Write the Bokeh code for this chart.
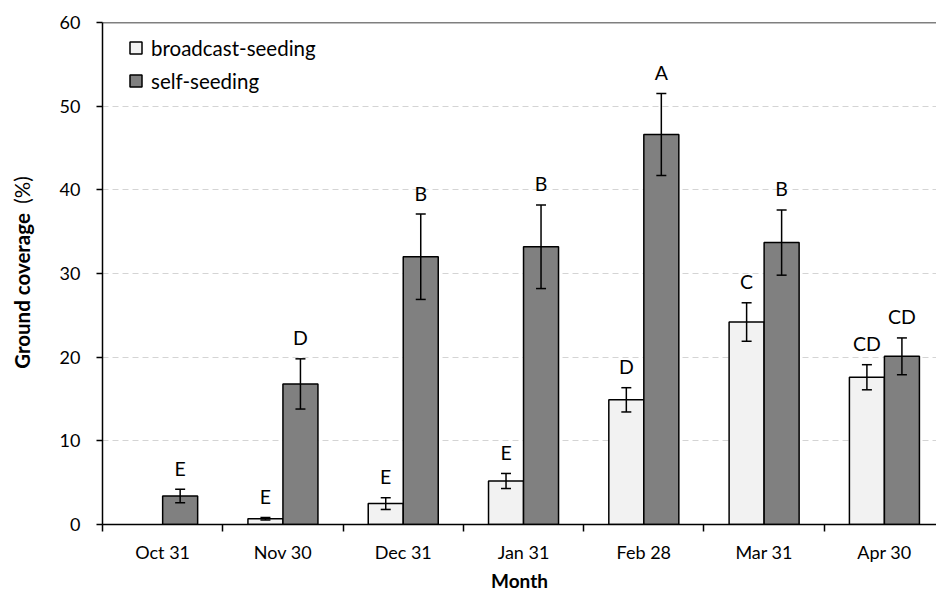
import math
from bokeh.plotting import figure
from bokeh.models import (ColumnDataSource, Range1d, FixedTicker, Whisker, TeeHead,
                          Legend, LegendItem, Span, Label)
from bokeh.core.properties import value
from bokeh.embed import file_html
from bokeh.resources import INLINE

months = ["Oct 31", "Nov 30", "Dec 31", "Jan 31", "Feb 28", "Mar 31", "Apr 30"]
broadcast = [None, 0.7, 2.5, 5.2, 14.9, 24.2, 17.6]
broadcast_err = [None, 0.15, 0.7, 0.9, 1.45, 2.3, 1.5]
broadcast_letters = ["", "E", "E", "E", "D", "C", "CD"]
self_seed = [3.4, 16.8, 32.0, 33.2, 46.6, 33.7, 20.1]
self_err = [0.8, 3.0, 5.1, 5.0, 4.9, 3.9, 2.2]
self_letters = ["E", "D", "B", "B", "A", "B", "CD"]
y_ticks = [0, 10, 20, 30, 40, 50, 60]

FONT = "Lato"
BW = 0.291

def make_source(vals, errs, letters, side):
    idx = [i for i, v in enumerate(vals) if v is not None]
    xs = [i + 0.5 + side * BW / 2 for i in idx]
    return ColumnDataSource(dict(
        x=xs,
        top=[vals[i] for i in idx],
        upper=[vals[i] + errs[i] for i in idx],
        lower=[vals[i] - errs[i] for i in idx],
        letter=[letters[i] for i in idx],
    ))

bsrc = make_source(broadcast, broadcast_err, broadcast_letters, -1)
ssrc = make_source(self_seed, self_err, self_letters, 1)

p = figure(width=936, height=594, output_backend="svg", toolbar_location=None,
           x_range=Range1d(0, 6.933), y_range=Range1d(0, 60),
           min_border_left=102, min_border_right=0, min_border_top=22, min_border_bottom=68)
p.outline_line_color = None
p.background_fill_color = "white"
p.border_fill_color = "white"

rb = p.vbar(x="x", top="top", width=BW, bottom=0, source=bsrc,
            fill_color="#f2f2f2", line_color="black", line_width=1.5)
rs = p.vbar(x="x", top="top", width=BW, bottom=0, source=ssrc,
            fill_color="#808080", line_color="black", line_width=1.5)

for src in (bsrc, ssrc):
    w = Whisker(base="x", upper="upper", lower="lower", source=src, dimension="height",
                line_color="black", line_width=1.5, level="annotation",
                upper_head=TeeHead(size=10, line_width=1.5, line_color="black"),
                lower_head=TeeHead(size=10, line_width=1.5, line_color="black"))
    p.add_layout(w)
    p.text(x="x", y="upper", text="letter", source=src, text_align="center",
           text_baseline="middle", y_offset=-21, text_font=value(FONT),
           text_font_size="19.5px", text_color="black")

# top border
p.add_layout(Span(location=60, dimension="width", line_color="black", line_width=1.5))

# grid
p.xgrid.grid_line_color = None
p.ygrid.ticker = FixedTicker(ticks=y_ticks[1:-1])
p.ygrid.grid_line_color = "#d4d4d4"
p.ygrid.grid_line_dash = "6 4"
p.ygrid.grid_line_width = 1

# x axis
centers = [i + 0.5 for i in range(len(months))]
bounds = [float(i) for i in range(len(months) + 1)]
xa = p.xaxis[0]
xa.ticker = FixedTicker(ticks=centers, minor_ticks=bounds)
xa.major_label_overrides = {c: m for c, m in zip(centers, months)}
xa.major_tick_out = 0
xa.major_tick_in = 0
xa.minor_tick_out = 7
xa.minor_tick_in = 0
xa.minor_tick_line_color = "black"
xa.minor_tick_line_width = 1.5
xa.axis_line_color = "black"
xa.axis_line_width = 1.5
xa.major_label_text_font = FONT
xa.major_label_text_font_size = "18px"
xa.major_label_text_color = "black"
xa.major_label_standoff = 9
xa.axis_label = "Month"
xa.axis_label_text_font = FONT
xa.axis_label_text_font_style = "bold"
xa.axis_label_text_font_size = "19px"
xa.axis_label_standoff = 3
xa.axis_label_text_color = "black"

# y axis
ya = p.yaxis[0]
ya.ticker = FixedTicker(ticks=y_ticks)
ya.major_tick_out = 6
ya.major_tick_in = 0
ya.minor_tick_out = 0
ya.minor_tick_in = 0
ya.major_tick_line_color = "black"
ya.major_tick_line_width = 1.5
ya.axis_line_color = "black"
ya.axis_line_width = 1.5
ya.major_label_text_font = FONT
ya.major_label_text_font_size = "18px"
ya.major_label_text_color = "black"
ya.major_label_standoff = 16

# y axis title: bold "Ground coverage" + regular "(%)", placed in the left side panel
p.add_layout(Label(x=1, y=233.5, x_units="screen", y_units="screen", text="Ground coverage",
                   angle=math.pi / 2, text_align="center", text_baseline="bottom",
                   text_font=FONT, text_font_style="bold", text_font_size="20.5px",
                   text_color="black"), "left")
p.add_layout(Label(x=25, y=334.5, x_units="screen", y_units="screen", text="(%)",
                   angle=math.pi / 2, text_align="center", text_baseline="bottom",
                   text_font=FONT, text_font_size="20.5px", text_color="black"), "left")

legend = Legend(items=[LegendItem(label="broadcast-seeding", renderers=[rb]),
                       LegendItem(label="self-seeding", renderers=[rs])],
                location=(26, 431), orientation="vertical",
                glyph_width=15, glyph_height=15, label_height=25, spacing=8,
                label_standoff=8, padding=0, margin=0,
                border_line_color=None, background_fill_alpha=0,
                label_text_font=FONT, label_text_font_size="20.5px", label_text_color="black")
p.add_layout(legend)

open("out.html", "w").write(file_html(p, INLINE))
